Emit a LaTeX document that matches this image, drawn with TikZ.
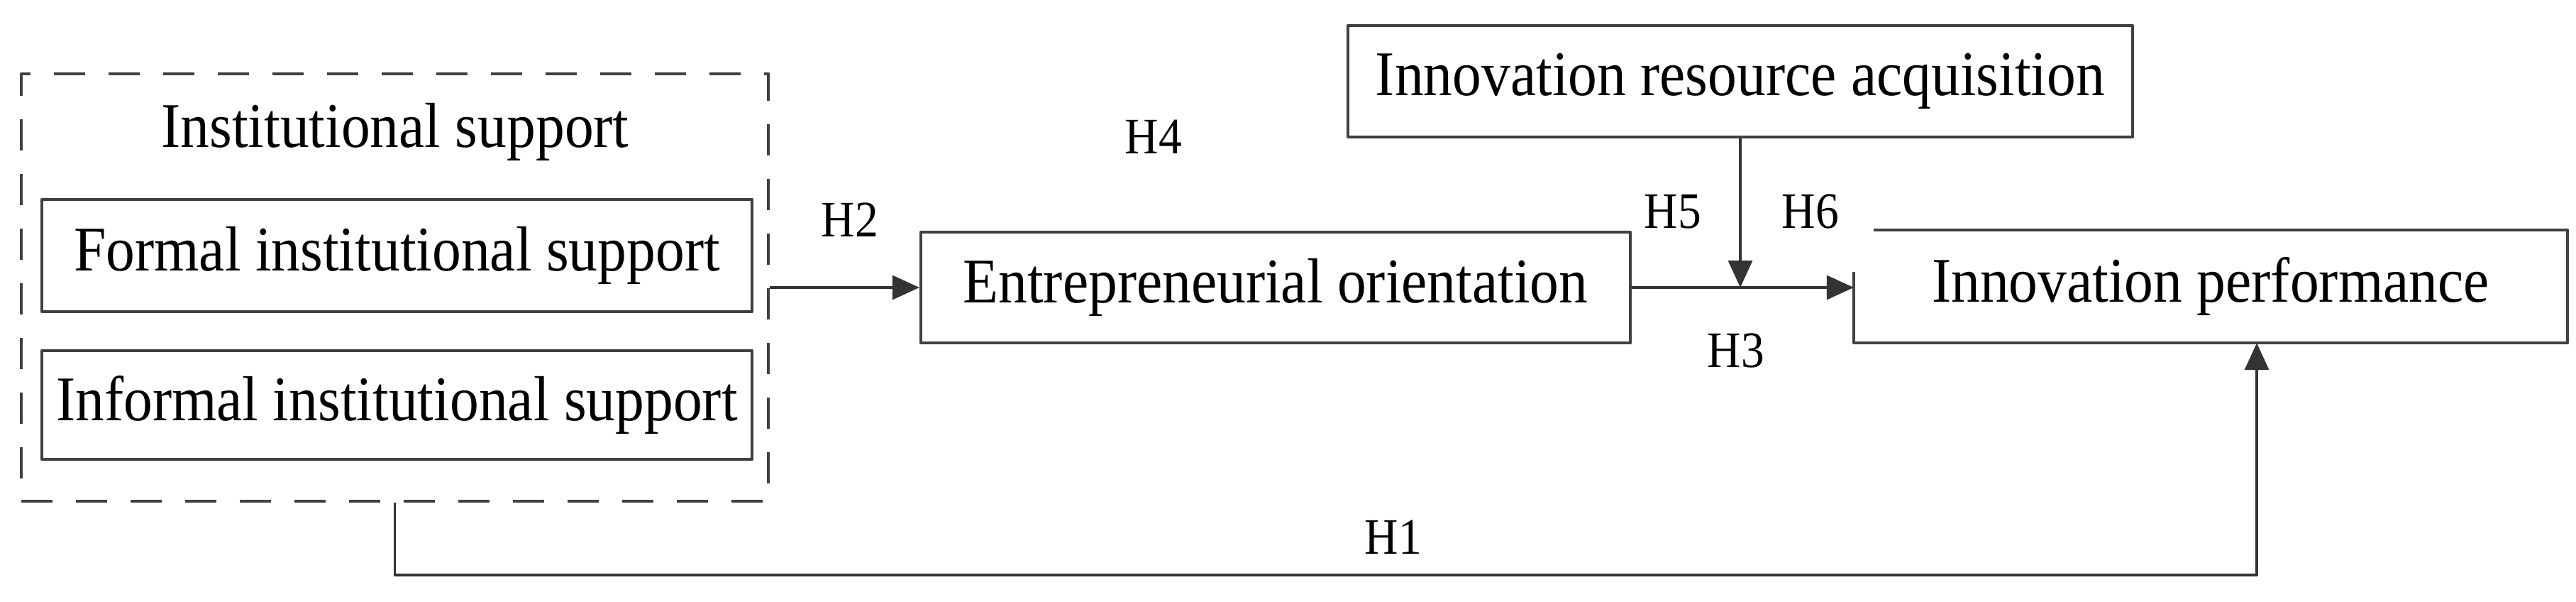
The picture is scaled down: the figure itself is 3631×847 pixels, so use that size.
\documentclass[tikz,border=0pt]{standalone}
\usepackage{fontspec}
\setmainfont[FakeStretch=0.91]{Liberation Serif}
\usepackage{tikz}
\usetikzlibrary{arrows.meta,calc}

\begin{document}
\begin{tikzpicture}[x=0.1mm,y=-0.1mm,line join=round,
	box/.style={draw=black!75,line width=0.42mm,inner sep=0pt,font=\fontsize{25.5}{30}\selectfont},
	hlab/.style={inner sep=0pt,font=\fontsize{20.5}{24}\selectfont},
	link/.style={draw=black!80,line width=0.32mm,-{Triangle[length=3.8mm,width=3.4mm]}}]

	\useasboundingbox (0,0) rectangle (3631,847);

	% institutional support group
	\node (bInst) [draw=black!75,line width=0.42mm,dash pattern=on 4.4mm off 3.3mm,minimum width=105.3mm,minimum height=60.2mm] at (556.5,405) {};
	\node (tInst) [box,draw=none] at (557,186) {Institutional support};
	\node (bFormal) [box,minimum width=100.1mm,minimum height=15.8mm] at (559.5,360) {Formal institutional support};
	\node (bInformal) [box,minimum width=100.1mm,minimum height=15.3mm] at (559.5,570.5) {Informal institutional support};

	\node (bEO) [box,minimum width=100mm,minimum height=15.6mm] at (1798,405) {Entrepreneurial orientation};
	\node (bIRA) [box,minimum width=110.6mm,minimum height=15.7mm] at (2453,114.5) {Innovation resource acquisition};
	\node (bIP) [box,draw=none,minimum width=100.2mm,minimum height=15.5mm] at (3116,403.5) {Innovation performance};
	\draw[draw=black!75,line width=0.42mm] ($(bIP.north west)+(28,0)$) -- (bIP.north east) -- (bIP.south east) -- (bIP.south west) -- ($(bIP.north west)+(0,59)$);

	% paths
	\draw[link] (bInst.east) -- (bEO.west);
	\draw[link] (bEO.east) -- (bEO.east -| bIP.west);
	\coordinate (cMod) at (bEO.east -| bIRA.south);
	\draw[link] (bIRA.south) -- (cMod);
	\coordinate (cH1) at (3181,810);
	\draw[link] (bInst.south) |- (cH1) -- (cH1 |- bIP.south);

	\node (lH1) [hlab] at (1964,757) {H1};
	\node (lH2) [hlab] at (1198,310) {H2};
	\node (lH3) [hlab] at (2447,494) {H3};
	\node (lH4) [hlab] at (1626,193) {H4};
	\node (lH5) [hlab] at (2358,298) {H5};
	\node (lH6) [hlab] at (2552,298) {H6};

\end{tikzpicture}
\end{document}
